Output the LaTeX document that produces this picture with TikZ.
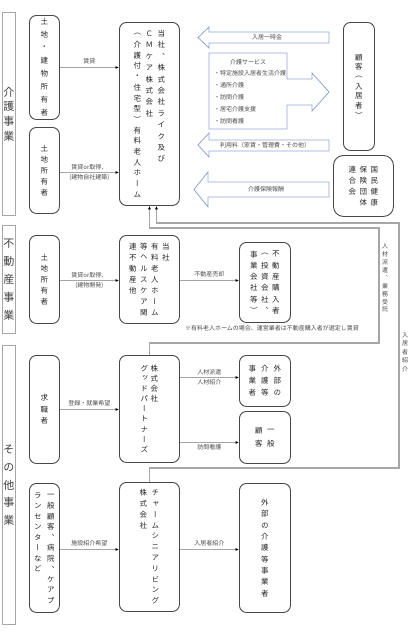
\documentclass[tikz,border=0pt]{standalone}
\usepackage{fontspec}
\setmainfont{Noto Sans CJK JP}
\newfontfamily\vjp{Noto Sans CJK JP}[RawFeature=+vert]
\usetikzlibrary{arrows.meta,calc}
\definecolor{barrowc}{HTML}{8EA6D6}
\newlength\vch
\let\vcolend\relax
\def\vcolloop#1{\ifx#1\vcolend\else\vbox to\vch{\vss\hbox to 1em{\hss#1\hss}\vss}\expandafter\vcolloop\fi}
\newcommand\vcol[2][11pt]{\vtop{\offinterlineskip\setlength\vch{#1}\vcolloop#2\vcolend}}
\tikzset{
 rbox/.style={draw=black!72, line width=0.9pt, rounded corners=7pt, inner sep=0pt, anchor=north west, font=\vjp\fontsize{7.5pt}{9pt}\selectfont, text=black!85},
 secbox/.style={draw=black!35, line width=0.8pt, inner sep=0pt, anchor=north west, font=\vjp\fontsize{11pt}{13pt}\selectfont, text=black!75},
 conn/.style={draw=black!35, line width=1.1pt, -{Latex[length=3.5pt,width=3pt,color=black]}},
 lbl/.style={font=\fontsize{6pt}{7pt}\selectfont, text=black!70, inner sep=1pt},
 vlbl/.style={font=\vjp\fontsize{6pt}{7pt}\selectfont, text=black!70, inner sep=0pt},
 barrow/.style={draw=barrowc, line width=0.8pt, fill=white, line join=miter},
}
\begin{document}
\begin{tikzpicture}[x=1pt,y=-1pt]
\path[use as bounding box, fill=white] (0,0) rectangle (420,635);

% section labels
\node[secbox, minimum width=13pt, minimum height=203pt] (s1) at (2,12) {\vcol[14.7pt]{介護事業}};
\node[secbox, minimum width=13pt, minimum height=108pt] (s2) at (2,225) {\vcol[17.8pt]{不動産事業}};
\node[secbox, minimum width=13pt, minimum height=279pt] (s3) at (2,345) {\vcol[17.5pt]{その他事業}};

% left boxes
\node[rbox, minimum width=30pt, minimum height=103pt] (l1) at (29,15) {\vcol[13pt]{土地・建物所有者}};
\node[rbox, minimum width=30pt, minimum height=86pt] (l2) at (29,127) {\vcol{土地所有者}};
\node[rbox, minimum width=30pt, minimum height=88pt] (l3) at (29,235) {\vcol{土地所有者}};
\node[rbox, minimum width=30pt, minimum height=108pt] (l4) at (29,355) {\vcol[11.5pt]{求職者}};
\node[rbox, minimum width=30pt, minimum height=129pt] (l5) at (29,483) {\vcol[10.5pt]{ランセンターなど}\kern5.5pt\vcol[10.5pt]{一般顧客、病院、ケアプ}};

% center boxes
\node[rbox, minimum width=60pt, minimum height=183pt] (c1) at (119,22) {\vcol[10.7pt]{（介護付・住宅型）有料老人ホーム}\kern4.5pt\vcol[11.4pt]{ＣＭケア株式会社}\kern4.5pt\vcol[11.4pt]{当社、株式会社ライク及び}};
\node[rbox, minimum width=60pt, minimum height=88pt] (c2) at (119,235) {\vcol{連不動産他}\kern3.5pt\vcol{等ヘルスケア関}\kern3.5pt\vcol{有料老人ホーム}\kern3.5pt\vcol{当社}};
\node[rbox, minimum width=60pt, minimum height=107pt] (g) at (119,355) {\vcol[10.2pt]{グッドパートナーズ}\kern2.5pt\vcol[10.2pt]{株式会社}};
\node[rbox, minimum width=60pt, minimum height=129pt] (ch) at (119,482) {\vcol[10.8pt]{株式会社}\kern4.5pt\vcol[10.8pt]{チャームシニアリビング}};

% right boxes
\node[rbox, minimum width=31pt, minimum height=128pt] (r1) at (343,22) {\vcol[9.7pt]{顧客（入居者）}};
\node[rbox, rounded corners=10pt, minimum width=60pt, minimum height=61pt] (r2) at (333,155) {\vcol{連合会}\kern3.5pt\vcol{保険団体}\kern3.5pt\vcol{国民健康}};
\node[rbox, minimum width=51pt, minimum height=80pt] (r3) at (239,242) {\vcol[11.3pt]{事業会社等）}\kern3.5pt\vcol[11.3pt]{（投資会社、}\kern3.5pt\vcol[11.3pt]{不動産購入者}};
\node[rbox, minimum width=51pt, minimum height=51pt] (r4) at (239,355) {\vcol[12pt]{事業者}\kern5pt\vcol[12pt]{介護等}\kern5pt\vcol[12pt]{外部の}};
\node[rbox, minimum width=51pt, minimum height=52pt] (r5) at (239,411) {\vcol[13pt]{顧客}\kern4.5pt\vcol[13pt]{一般}};
\node[rbox, minimum width=51pt, minimum height=129pt] (r6) at (239,483) {\vcol[11.3pt]{外部の介護等事業者}};

% block arrows
\draw[barrow] (329,32) -- (209,32) -- (209,27) -- (198,37.5) -- (209,48) -- (209,43) -- (329,43) -- cycle;
\node[lbl] (a1) at (267,37.5) {入居一時金};
\draw[barrow] (209,53) -- (287,53) -- (287,79) -- (312,79) -- (312,73) -- (329,92) -- (312,111) -- (312,105) -- (287,105) -- (287,129) -- (209,129) -- cycle;
\node[lbl] (a2) at (248,62) {介護サービス};
\foreach \t [count=\i] in {・特定施設入居者生活介護,・通所介護,・訪問介護,・居宅介護支援,・訪問看護}
  \node[lbl, anchor=west] (sv\i) at (213,61+12*\i) {\t};
\draw[barrow] (329,140) -- (209,140) -- (209,133) -- (198,145) -- (209,157) -- (209,151) -- (329,151) -- cycle;
\node[lbl] (a3) at (265,145.5) {利用料（家賃・管理費・その他）};
\draw[barrow] (329,182) -- (208,182) -- (208,172) -- (194,189.5) -- (208,207) -- (208,197) -- (329,197) -- cycle;
\node[lbl] (a4) at (266,189.5) {介護保険報酬};

% connectors
\draw[conn] (l1.east) -- node[lbl, above=1.5pt] (t1) {賃貸} (l1.east -| c1.west);
\draw[conn] ($(l2.east)+(0,2)$) -- node[lbl, above=0.5pt] (t2) {賃貸or取得、} node[lbl, below=0.5pt] (t2b) {(建物自社建築)} ($(l2.east -| c1.west)+(0,2)$);
\draw[conn] ($(l3.east)+(0,1)$) -- node[lbl, above=0.5pt] (t3) {賃貸or取得、} node[lbl, below=0.5pt] (t3b) {(建物開発)} ($(l3.east -| c2.west)+(0,1)$);
\draw[conn] ($(c2.east)+(0,1)$) -- node[lbl, above=1.5pt] (t4) {不動産売却} ($(c2.east -| r3.west)+(0,1)$);
\draw[conn] (l4.east) -- node[lbl, above=1.5pt] (t5) {登録・就業希望} (l4.east -| g.west);
\draw[conn] ($(g.east |- r4.west)+(0,-3.5)$) -- node[lbl, above=0.5pt] (t6) {人材派遣} node[lbl, below=0.5pt] (t6b) {人材紹介} ($(r4.west)+(0,-3.5)$);
\draw[conn] ($(g.east |- r5.west)+(0,5)$) -- node[lbl, below=0.5pt] (t7) {訪問看護} ($(r5.west)+(0,5)$);
\draw[conn] ($(l5.east)+(0,1.5)$) -- node[lbl, above=1.5pt] (t8) {施設紹介希望} ($(l5.east -| ch.west)+(0,1.5)$);
\draw[conn] ($(ch.east)+(0,2.5)$) -- node[lbl, above=1.5pt] (t9) {入居者紹介} ($(ch.east -| r6.west)+(0,2.5)$);

\node[lbl] (note) at (272,328) {※有料老人ホームの場合、運営業者は不動産購入者が選定し賃貸};

% loops
\coordinate (kA) at (379,228);
\coordinate (kB) at (399,223);
\draw[conn] (g.north) -- ++(0,-12) -| (kA) -| (c1.south);
\draw[conn] (ch.north) -- ++(0,-14) -| (kB) -| ($(c1.south)+(7,0)$);
\node[vlbl] (lA) at (385,278) {\vcol[7.9pt]{人材派遣、業務受託}};
\node[vlbl] (lB) at (405,352) {\vcol[8.5pt]{入居者紹介}};
\end{tikzpicture}
\end{document}
